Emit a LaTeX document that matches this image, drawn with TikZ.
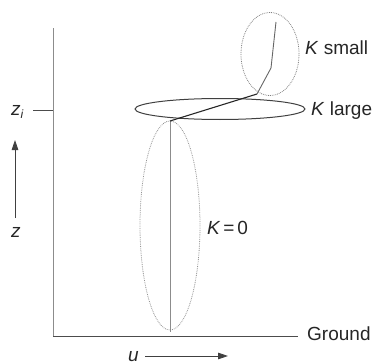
\documentclass[tikz,border=0pt]{standalone}
\usepackage{fontspec}
\setmainfont{Liberation Sans}
\usetikzlibrary{arrows.meta,shapes.geometric}
\begin{document}
\begin{tikzpicture}[x=1pt,y=-1pt,
  lbl/.style={font=\fontsize{19}{21}\selectfont, text=black!85, inner sep=0pt, anchor=base west},
  axisline/.style={draw=black!45, line width=0.9pt},
  groundline/.style={draw=black!70, line width=1pt},
  dotell/.style={draw=black!42, densely dotted, line width=0.8pt, ellipse, inner sep=0pt},
  solidell/.style={draw=black!75, line width=1pt, ellipse, inner sep=0pt},
  path0/.style={draw=black!45, line width=0.9pt},
  pathL/.style={draw=black!85, line width=1.1pt},
  pathS/.style={draw=black!60, line width=0.9pt},
  dirarrow/.style={draw=black!75, line width=0.8pt, -{Triangle[length=10pt,width=6.5pt]}}
]
\useasboundingbox (0,0) rectangle (376,364);

% axes
\coordinate (axtop) at (53,28);
\coordinate (origin) at (53,336);
\coordinate (gend) at (298,336);
\draw[axisline] (axtop) -- (origin);
\draw[groundline] (origin) -- (gend);
\node[lbl] (ground) at (307,341) {Ground};

% z_i tick
\coordinate (zitick) at (33,110);
\coordinate (zionaxis) at (53,110);
\draw[groundline] (zitick) -- (zionaxis);
\node[lbl] (zi) at (11,115) {\textit{z}\raisebox{-0.35ex}{\fontsize{12}{13}\selectfont\textit{i}}};

% z arrow
\coordinate (zlow) at (15,218);
\coordinate (zhigh) at (15,140);
\draw[dirarrow] (zlow) -- (zhigh);
\node[lbl] (z) at (11,237) {\textit{z}};

% u arrow
\coordinate (uleft) at (145,356);
\coordinate (uright) at (228,356);
\draw[dirarrow] (uleft) -- (uright);
\node[lbl] (u) at (128,361) {\textit{u}};

% ellipses
\node[dotell, minimum width=60, minimum height=209] (k0) at (170,225.5) {};
\node[solidell, minimum width=170, minimum height=21] (kl) at (220,109) {};
\node[dotell, draw=black!50, minimum width=58, minimum height=83] (ks) at (270,54) {};

% paths
\coordinate (p0top) at (170,121);
\coordinate (p0bot) at (170,332);
\coordinate (pL) at (257,94);
\coordinate (pS1) at (271,68);
\coordinate (pS2) at (276,22);
\draw[path0] (p0top) -- (p0bot);
\draw[pathL] (p0top) -- (pL);
\draw[pathS] (pL) -- (pS1) -- (pS2);

% labels
\node[lbl] (lks) at (305,55) {\textit{K} small};
\node[lbl] (lkl) at (311,116) {\textit{K} large};
\node[lbl] (lk0) at (207,235) {\textit{K}\hspace{0.15em}=\hspace{0.15em}0};
\end{tikzpicture}
\end{document}
